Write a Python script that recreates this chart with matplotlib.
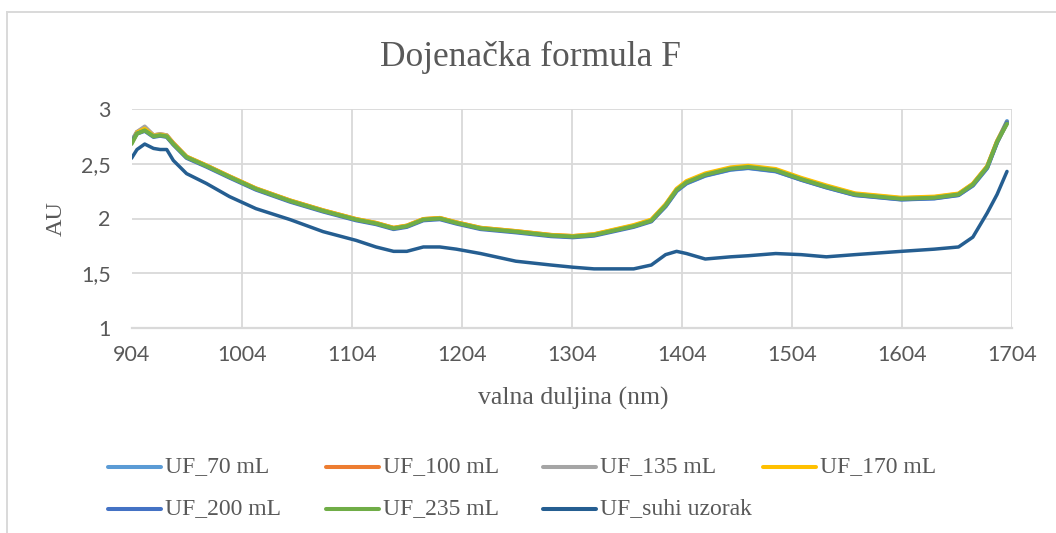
import matplotlib
matplotlib.use("Agg")
import matplotlib.pyplot as plt
from matplotlib.lines import Line2D

W, H = 1056, 533

wavelength = [904, 909, 916, 924, 930, 936, 942, 954, 972, 993, 1017, 1048, 1078, 1108,
              1126, 1142, 1154, 1169, 1184, 1199, 1221, 1253, 1285, 1305, 1324, 1360,
              1376, 1389, 1399, 1408, 1425, 1448, 1464, 1489, 1512, 1535, 1561, 1603,
              1633, 1655, 1668, 1681, 1690, 1699]

uf_70 = [2.71, 2.79, 2.81, 2.75, 2.76, 2.75, 2.68, 2.56, 2.48, 2.38, 2.27, 2.16, 2.07, 1.99,
         1.955, 1.91, 1.93, 1.99, 2.00, 1.96, 1.91, 1.88, 1.845, 1.835, 1.85, 1.93,
         1.98, 2.11, 2.25, 2.32, 2.39, 2.445, 2.46, 2.43, 2.355, 2.285, 2.215, 2.175,
         2.185, 2.215, 2.30, 2.46, 2.70, 2.89]
uf_100 = [2.69, 2.79, 2.83, 2.76, 2.77, 2.76, 2.69, 2.565, 2.485, 2.385, 2.275, 2.165, 2.075, 1.995,
          1.96, 1.915, 1.935, 1.995, 2.005, 1.965, 1.915, 1.885, 1.85, 1.84, 1.855, 1.935,
          1.985, 2.125, 2.265, 2.335, 2.405, 2.46, 2.475, 2.445, 2.365, 2.295, 2.225, 2.185,
          2.195, 2.225, 2.315, 2.475, 2.705, 2.875]
uf_135 = [2.69, 2.79, 2.84, 2.76, 2.77, 2.76, 2.68, 2.56, 2.48, 2.38, 2.27, 2.16, 2.07, 1.99,
          1.955, 1.91, 1.93, 1.99, 2.00, 1.96, 1.91, 1.88, 1.845, 1.835, 1.85, 1.93,
          1.98, 2.12, 2.26, 2.33, 2.40, 2.455, 2.47, 2.44, 2.36, 2.29, 2.22, 2.18,
          2.19, 2.22, 2.31, 2.47, 2.70, 2.87]
uf_170 = [2.69, 2.785, 2.82, 2.755, 2.765, 2.755, 2.685, 2.565, 2.485, 2.385, 2.275, 2.165, 2.075, 1.995,
          1.96, 1.915, 1.935, 1.995, 2.005, 1.965, 1.915, 1.885, 1.85, 1.84, 1.857, 1.94,
          1.99, 2.13, 2.272, 2.342, 2.412, 2.467, 2.482, 2.452, 2.372, 2.302, 2.23, 2.19,
          2.20, 2.228, 2.318, 2.478, 2.708, 2.88]
uf_200 = [2.70, 2.775, 2.80, 2.745, 2.755, 2.745, 2.675, 2.553, 2.473, 2.373, 2.263, 2.153, 2.063, 1.983,
          1.948, 1.903, 1.923, 1.983, 1.993, 1.953, 1.903, 1.873, 1.838, 1.828, 1.843, 1.923,
          1.973, 2.113, 2.253, 2.323, 2.393, 2.448, 2.463, 2.433, 2.353, 2.283, 2.213, 2.173,
          2.183, 2.213, 2.303, 2.463, 2.693, 2.88]
uf_235 = [2.68, 2.775, 2.805, 2.75, 2.76, 2.75, 2.68, 2.56, 2.48, 2.38, 2.27, 2.16, 2.07, 1.99,
          1.955, 1.91, 1.93, 1.99, 2.00, 1.96, 1.91, 1.88, 1.845, 1.835, 1.85, 1.93,
          1.98, 2.12, 2.26, 2.33, 2.40, 2.455, 2.47, 2.44, 2.36, 2.29, 2.22, 2.18,
          2.19, 2.22, 2.31, 2.47, 2.70, 2.865]
uf_suhi = [2.55, 2.63, 2.68, 2.64, 2.63, 2.63, 2.53, 2.41, 2.32, 2.20, 2.09, 1.99, 1.88, 1.80,
           1.74, 1.70, 1.70, 1.74, 1.74, 1.72, 1.68, 1.61, 1.575, 1.555, 1.54, 1.54,
           1.575, 1.67, 1.70, 1.68, 1.63, 1.65, 1.66, 1.68, 1.67, 1.65, 1.67, 1.70,
           1.72, 1.74, 1.83, 2.05, 2.22, 2.43]

series_names = ["UF_70 mL", "UF_100 mL", "UF_135 mL", "UF_170 mL",
                "UF_200 mL", "UF_235 mL", "UF_suhi uzorak"]
series_values = [uf_70, uf_100, uf_135, uf_170, uf_200, uf_235, uf_suhi]
colors = ["#5B9BD5", "#ED7D31", "#A5A5A5", "#FFC000", "#4472C4", "#70AD47", "#255E91"]

x_ticks = [904, 1004, 1104, 1204, 1304, 1404, 1504, 1604, 1704]
y_ticks = [1, 1.5, 2, 2.5, 3]
y_tick_labels = ["1", "1,5", "2", "2,5", "3"]

TXT = "#595959"
GRID = "#D9D9D9"
SERIF = ["Liberation Serif", "DejaVu Serif"]
SANS = ["Lato", "DejaVu Sans"]

fig = plt.figure(figsize=(W / 100, H / 100), dpi=100)
fig.patch.set_facecolor("white")

# outer chart border (left and top visible)
fig.add_artist(Line2D([6.5 / W, 6.5 / W], [0, 1 - 12 / H], color=GRID, lw=1.4,
                      transform=fig.transFigure))
fig.add_artist(Line2D([6.5 / W, 1], [1 - 12 / H, 1 - 12 / H], color=GRID, lw=1.4,
                      transform=fig.transFigure))

left, right, top, bottom = 131.5, 1012.5, 109, 328
ax = fig.add_axes([left / W, 1 - bottom / H, (right - left) / W, (bottom - top) / H])
for name, vals, c in zip(series_names, series_values, colors):
    ax.plot(wavelength, vals, color=c, lw=2.9 if name != "UF_suhi uzorak" else 2.5,
            solid_capstyle="round", label=name, zorder=3)

ax.set_xlim(904, 1704)
ax.set_ylim(1, 3)
ax.set_xticks(x_ticks)
ax.set_xticklabels([str(t) for t in x_ticks])
ax.set_yticks(y_ticks)
ax.set_yticklabels(y_tick_labels)
ax.grid(True, color=GRID, lw=1.3, zorder=0)
for s in ax.spines.values():
    s.set_visible(False)
ax.tick_params(length=0, colors=TXT)
ax.tick_params(axis="x", pad=12)
ax.tick_params(axis="y", pad=15)
for lab in ax.get_xticklabels() + ax.get_yticklabels():
    lab.set_fontfamily(SANS)
    lab.set_fontsize(15.5)
    lab.set_color(TXT)
ax.set_axisbelow(True)
ax.axhline(1, color=GRID, lw=1.6, zorder=1, clip_on=False)

fig.text(530 / W, 1 - 57 / H, "Dojenačka formula F", ha="center", va="center",
         fontsize=25.5, family=SERIF, color=TXT)
fig.text(56 / W, 1 - 219 / H, "AU", ha="center", va="center", rotation=90,
         fontsize=17.5, family=SERIF, color=TXT)
fig.text(573 / W, 1 - 398 / H, "valna duljina (nm)", ha="center", va="center",
         fontsize=18.5, family=SERIF, color=TXT)

# legend (manual layout, Excel style)
col_x = [108, 326, 543, 763]
row_y = [466.5, 509]
handle_len = 53
for i, (name, c) in enumerate(zip(series_names, colors)):
    r, col = divmod(i, 4)
    x0 = col_x[col]
    y0 = 1 - row_y[r] / H
    fig.add_artist(Line2D([x0 / W, (x0 + handle_len) / W], [y0, y0], color=c, lw=2.9,
                          solid_capstyle="round", transform=fig.transFigure))
    fig.text((x0 + handle_len + 4) / W, y0, name, ha="left", va="center",
             fontsize=17, family=SERIF, color=TXT)

fig.savefig("out.png", dpi=100, facecolor="white")
